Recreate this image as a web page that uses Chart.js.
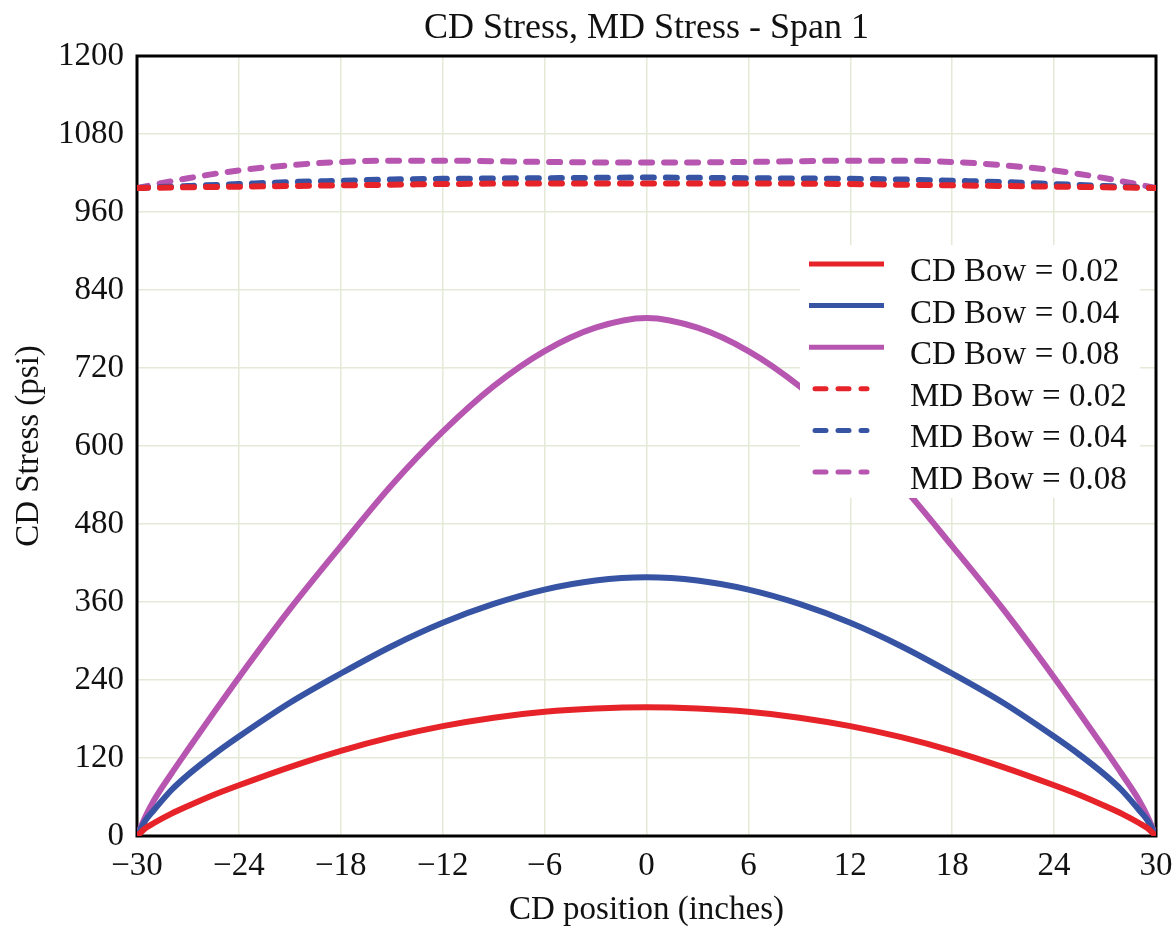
<!DOCTYPE html>
<html>
<head>
<meta charset="utf-8">
<script src="https://cdn.jsdelivr.net/npm/chart.js"></script>
<style>
  body { margin: 0; background: #fff; }
  #wrap { width: 1176px; height: 932px; }
</style>
</head>
<body>
<div id="wrap"><canvas id="chart" width="1176" height="932"></canvas></div>
<script>
// CD stress curves
const cdX = [-30, -29.5, -29, -28, -27, -25.5, -24, -21, -18, -15, -12, -9, -6, -3, 0,
             3, 6, 9, 12, 15, 18, 21, 24, 25.5, 27, 28, 29, 29.5, 30];
const cdBow002 = [0, 12, 20, 34, 46, 63, 78, 106, 131, 152, 169, 182, 191, 196, 198,
                  196, 191, 182, 169, 152, 131, 106, 78, 63, 46, 34, 20, 12, 0];
const cdBow004 = [0, 24, 40, 70, 94, 125, 153, 205, 250, 292, 328, 357, 379, 393, 398,
                  393, 379, 357, 328, 292, 250, 205, 153, 125, 94, 70, 40, 24, 0];
const cdBow008 = [0, 30, 55, 95, 133, 189, 244, 349, 446, 540, 622, 692, 746, 782, 797,
                  782, 746, 692, 622, 540, 446, 349, 244, 189, 133, 95, 55, 30, 0];

// MD stress curves
const mdX = [-30, -27, -24, -21, -18, -15, -12, -6, 0, 6, 12, 15, 18, 21, 24, 27, 30];
const mdBow002 = [997, 998, 999, 1000, 1001, 1002, 1003, 1004, 1004, 1004, 1003, 1002, 1001, 1000, 999, 998, 997];
const mdBow004 = [997, 1000, 1003, 1006, 1008, 1010, 1011, 1012, 1013, 1012, 1011, 1010, 1008, 1006, 1003, 1000, 997];
const mdBow008 = [997, 1012, 1024, 1032, 1037, 1039, 1039, 1037, 1036, 1037, 1039, 1039, 1037, 1032, 1024, 1012, 997];

const legendLabels = ['CD Bow = 0.02', 'CD Bow = 0.04', 'CD Bow = 0.08',
                      'MD Bow = 0.02', 'MD Bow = 0.04', 'MD Bow = 0.08'];
const chartTitle = 'CD Stress, MD Stress - Span 1';

const RED = 'rgb(230, 35, 40)';
const BLUE = 'rgb(55, 84, 164)';
const PURPLE = 'rgb(182, 86, 176)';
const FONT = '"Liberation Serif", "Times New Roman", serif';

function pts(xs, ys) {
  return xs.map((x, i) => ({ x: x, y: ys[i] }));
}

function line(label, xs, ys, color, dashed) {
  return {
    label: label,
    data: pts(xs, ys),
    borderColor: color,
    backgroundColor: color,
    borderWidth: 6,
    borderDash: dashed ? [11, 12] : [],
    borderCapStyle: dashed ? 'round' : 'butt',
    pointRadius: 0,
    fill: false,
    cubicInterpolationMode: 'monotone'
  };
}

// black box round the plot area + title centred on the plot
const framePlugin = {
  id: 'frame',
  beforeDatasetsDraw(chart) {
    const { ctx, chartArea: a } = chart;
    ctx.save();
    ctx.strokeStyle = '#000';
    ctx.lineWidth = 3;
    ctx.strokeRect(a.left, a.top, a.right - a.left, a.bottom - a.top);
    ctx.fillStyle = '#111';
    ctx.font = '36px ' + FONT;
    ctx.textAlign = 'center';
    ctx.textBaseline = 'middle';
    ctx.fillText(chartTitle, (a.left + a.right) / 2, 29);
    ctx.restore();
  }
};

// legend inside the plot, with a white box behind it
const legendPlugin = {
  id: 'boxLegend',
  afterDatasetsDraw(chart) {
    const ctx = chart.ctx;
    ctx.save();
    ctx.fillStyle = '#fff';
    ctx.fillRect(800, 245, 340, 253);
    chart.data.datasets.forEach((ds, i) => {
      const y = 264 + i * 41.6;
      ctx.strokeStyle = ds.borderColor;
      ctx.lineWidth = 5;
      ctx.setLineDash(ds.borderDash);
      ctx.lineCap = ds.borderCapStyle;
      ctx.beginPath();
      if (ds.borderDash.length) {
        ctx.moveTo(815, y);
        ctx.lineTo(867, y);
      } else {
        ctx.moveTo(809, y);
        ctx.lineTo(884, y);
      }
      ctx.stroke();
      ctx.setLineDash([]);
      ctx.fillStyle = '#111';
      ctx.font = '33px ' + FONT;
      ctx.textBaseline = 'alphabetic';
      ctx.textAlign = 'left';
      ctx.fillText(ds.label, 910, y + 17);
    });
    ctx.restore();
  }
};

new Chart(document.getElementById('chart'), {
  type: 'line',
  data: {
    datasets: [
      line(legendLabels[0], cdX, cdBow002, RED, false),
      line(legendLabels[1], cdX, cdBow004, BLUE, false),
      line(legendLabels[2], cdX, cdBow008, PURPLE, false),
      line(legendLabels[3], mdX, mdBow002, RED, true),
      line(legendLabels[4], mdX, mdBow004, BLUE, true),
      line(legendLabels[5], mdX, mdBow008, PURPLE, true)
    ]
  },
  options: {
    responsive: false,
    animation: false,
    layout: { padding: { left: 0, right: 20, top: 56, bottom: 0 } },
    scales: {
      x: {
        type: 'linear',
        min: -30,
        max: 30,
        afterFit(scale) {
          scale.height = 96;
          scale.paddingLeft = 0;
          scale.paddingRight = 20;
        },
        ticks: {
          stepSize: 6,
          padding: 11,
          color: '#111',
          font: { family: FONT, size: 33 },
          callback: v => String(v).replace('-', '\u2212')
        },
        grid: { color: '#e4e9d8', lineWidth: 1.5, drawTicks: false },
        border: { display: false },
        title: {
          display: true,
          text: 'CD position (inches)',
          color: '#111',
          font: { family: FONT, size: 33 },
          padding: { top: 0, bottom: 2 }
        }
      },
      y: {
        type: 'linear',
        min: 0,
        max: 1200,
        afterFit(scale) { scale.width = 137; },
        ticks: {
          stepSize: 120,
          padding: 13,
          color: '#111',
          font: { family: FONT, size: 33 },
          callback: v => String(v)
        },
        grid: { color: '#e4e9d8', lineWidth: 1.5, drawTicks: false },
        border: { display: false },
        title: {
          display: true,
          text: 'CD Stress (psi)',
          color: '#111',
          font: { family: FONT, size: 33 },
          padding: { top: 10, bottom: 0 }
        }
      }
    },
    plugins: {
      legend: { display: false },
      tooltip: { enabled: false },
      title: { display: false }
    }
  },
  plugins: [framePlugin, legendPlugin]
});
</script>
</body>
</html>
